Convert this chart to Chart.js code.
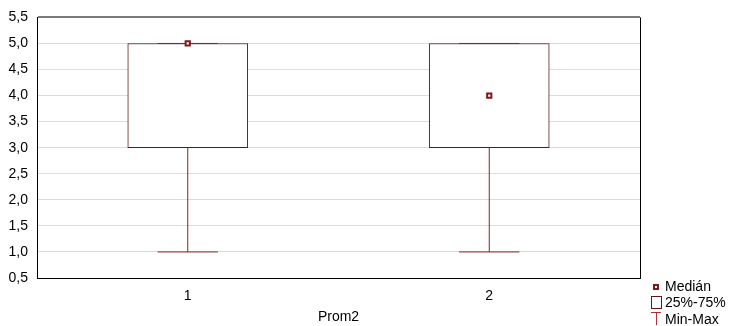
<!DOCTYPE html>
<html lang="es">
<head>
<meta charset="UTF-8" />
<script src="https://cdn.jsdelivr.net/npm/chart.js@4"></script>
<style>
  html, body { margin: 0; padding: 0; background: #fff; }
  #wrap { width: 729px; height: 326px; position: relative; }
</style>
</head>
<body>
<div id="wrap"><canvas id="myChart"></canvas></div>
<script>
// box plot values per group (Prom2)
const groups = [1, 2];
const mins = [1, 1];
const q1s = [3, 3];
const medians = [5, 4];
const q3s = [5, 5];
const maxs = [5, 5];
const yTicks = [0.5, 1, 1.5, 2, 2.5, 3, 3.5, 4, 4.5, 5, 5.5];
const legendLabels = ['Medián', '25%-75%', 'Min-Max'];

const dark = '#7d1b1b';
const capHalf = 0.1;
const fontFam = '"Liberation Sans", Arial, sans-serif';

// whisker segments, one line dataset each
const whiskers = [];
groups.forEach((g, i) => {
  const segs = [
    [{ x: g, y: mins[i] }, { x: g, y: q1s[i] }],
    [{ x: g - capHalf, y: mins[i] }, { x: g + capHalf, y: mins[i] }],
    [{ x: g, y: q3s[i] }, { x: g, y: maxs[i] }],
    [{ x: g - capHalf, y: maxs[i] }, { x: g + capHalf, y: maxs[i] }],
  ];
  segs.forEach((s) => {
    whiskers.push({
      type: 'line',
      data: s,
      borderColor: '#8b2323',
      borderWidth: 1,
      pointRadius: 0,
      fill: false,
      order: 1,
    });
  });
});

const frame = {
  id: 'frame',
  afterDatasetsDraw(chart) {
    const { ctx, chartArea: a } = chart;
    ctx.save();
    ctx.strokeStyle = '#000';
    ctx.lineWidth = 1;
    ctx.beginPath();
    ctx.moveTo(a.right + 0.5, a.top);
    ctx.lineTo(a.right + 0.5, a.bottom);
    ctx.stroke();
    ctx.restore();
  },
  afterDraw(chart) {
    const { ctx, chartArea: a } = chart;
    const x0 = a.right + 16;
    const y0 = a.bottom + 9;
    ctx.save();
    ctx.font = '14px ' + fontFam;
    ctx.textBaseline = 'middle';
    // median marker
    ctx.fillStyle = dark;
    ctx.fillRect(x0 - 3, y0 - 3, 6, 6);
    ctx.fillStyle = '#fff';
    ctx.fillRect(x0 - 1, y0 - 1, 2, 2);
    // box icon
    ctx.strokeStyle = '#5a1a1a';
    ctx.strokeRect(x0 - 4.5, y0 + 9.5, 10, 12);
    // min-max icon
    ctx.strokeStyle = '#b03030';
    ctx.beginPath();
    ctx.moveTo(x0 - 5, y0 + 25.5);
    ctx.lineTo(x0 + 5, y0 + 25.5);
    ctx.moveTo(x0 + 0.5, y0 + 25.5);
    ctx.lineTo(x0 + 0.5, y0 + 38);
    ctx.stroke();
    ctx.fillStyle = '#000';
    legendLabels.forEach((t, i) => {
      ctx.fillText(t, x0 + 9, y0 + i * 16.5);
    });
    ctx.restore();
  },
};

const ctx = document.getElementById('myChart').getContext('2d');
new Chart(ctx, {
  type: 'bar',
  data: {
    datasets: [
      {
        type: 'scatter',
        data: groups.map((g, i) => ({ x: g, y: medians[i] })),
        pointStyle: 'rect',
        pointRadius: 3,
        borderWidth: 2,
        borderColor: dark,
        backgroundColor: '#fff',
        order: 0,
      },
      ...whiskers,
      {
        type: 'bar',
        data: groups.map((g, i) => ({ x: g, y: [q1s[i], q3s[i]] })),
        backgroundColor: '#fff',
        borderColor: '#5a1a1a',
        borderWidth: 1,
        borderSkipped: false,
        barThickness: 120,
        order: 2,
      },
    ],
  },
  options: {
    responsive: true,
    maintainAspectRatio: false,
    animation: false,
    layout: { padding: { top: 16, right: 89, left: 0, bottom: 0 } },
    plugins: { legend: { display: false }, tooltip: { enabled: false } },
    scales: {
      x: {
        type: 'linear',
        offset: false,
        min: 0.5,
        max: 2.5,
        afterFit: (s) => { s.height = 48; },
        afterBuildTicks: (s) => { s.ticks = groups.map((g) => ({ value: g })); },
        grid: { display: false, drawTicks: false },
        border: { color: '#000', width: 1 },
        ticks: {
          padding: 10,
          color: '#000',
          font: { family: fontFam, size: 14 },
        },
        title: {
          display: true,
          text: 'Prom2',
          color: '#000',
          padding: { top: 1, bottom: 0 },
          font: { family: fontFam, size: 14 },
        },
      },
      y: {
        min: 0.5,
        max: 5.5,
        afterFit: (s) => { s.width = 37; },
        afterBuildTicks: (s) => { s.ticks = yTicks.map((v) => ({ value: v })); },
        grid: {
          drawTicks: false,
          color: (c) => (c.tick && c.tick.value === 5.5 ? '#7a7a7a' : '#dcdcdc'),
          lineWidth: (c) => (c.tick && c.tick.value === 5.5 ? 2 : 1),
        },
        border: { color: '#000', width: 1 },
        ticks: {
          padding: 9,
          color: '#000',
          font: { family: fontFam, size: 14 },
          callback: (v) => v.toFixed(1).replace('.', ','),
        },
      },
    },
  },
  plugins: [frame],
});
</script>
</body>
</html>
